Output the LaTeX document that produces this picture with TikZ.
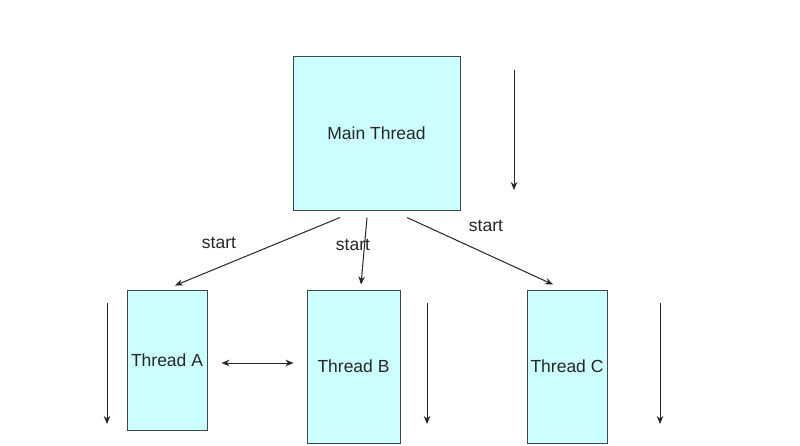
\documentclass[tikz,border=0pt]{standalone}
\usepackage{fontspec}
\setmainfont{Liberation Sans}
\usetikzlibrary{arrows.meta}
\definecolor{boxfill}{HTML}{CCFFFF}
\definecolor{boxline}{HTML}{3A4A4A}
\begin{document}
\begin{tikzpicture}[x=1pt,y=-1pt,
  box/.style={draw=boxline,fill=boxfill,line width=1pt,inner sep=0pt,font=\fontsize{17.5}{20}\selectfont,text=black!85},
  arr/.style={draw=black!85,line width=1pt,-{Stealth[length=8pt,width=6.5pt]}},
  darr/.style={draw=black!85,line width=1pt,{Stealth[length=8pt,width=6.5pt]}-{Stealth[length=8pt,width=6.5pt]}},
  lbl/.style={font=\fontsize{17.5}{20}\selectfont,text=black!85,inner sep=0pt}]
\useasboundingbox (0,0) rectangle (800,445);
\fill[white] (0,0) rectangle (800,445);
\node[box,minimum width=167pt,minimum height=154pt] (main) at (376.5,133) {Main Thread};
\node[box,minimum width=80pt,minimum height=140pt] (A) at (167,360) {Thread A};
\node[box,minimum width=93pt,minimum height=153pt] (B) at (353.5,366.5) {Thread B};
\node[box,minimum width=80pt,minimum height=153pt] (C) at (567,366.5) {Thread C};
% start arrows
\draw[arr] ([xshift=-36.5pt,yshift=-7pt]main.south) -- ([xshift=8pt,yshift=4pt]A.north);
\draw[arr] ([xshift=-9.5pt,yshift=-7pt]main.south) -- ([xshift=7.5pt,yshift=5pt]B.north);
\draw[arr] ([xshift=30.5pt,yshift=-7pt]main.south) -- ([xshift=-14pt,yshift=5pt]C.north);
\node[lbl] (l1) at (219,243) {start};
\node[lbl] (l2) at (353,245) {start};
\node[lbl] (l3) at (486,226) {start};
% communication
\draw[darr] ([xshift=14pt,yshift=-3pt]A.east) -- ([xshift=-13pt,yshift=3.5pt]B.west);
% time arrows
\coordinate (m1) at (514,70); \coordinate (m2) at (514,190);
\coordinate (a1) at (107,303); \coordinate (a2) at (107,424);
\coordinate (b1) at (427,303); \coordinate (b2) at (427,424);
\coordinate (c1) at (660,303); \coordinate (c2) at (660,424);
\draw[arr] (m1) -- (m2);
\draw[arr] (a1) -- (a2);
\draw[arr] (b1) -- (b2);
\draw[arr] (c1) -- (c2);
\end{tikzpicture}
\end{document}
